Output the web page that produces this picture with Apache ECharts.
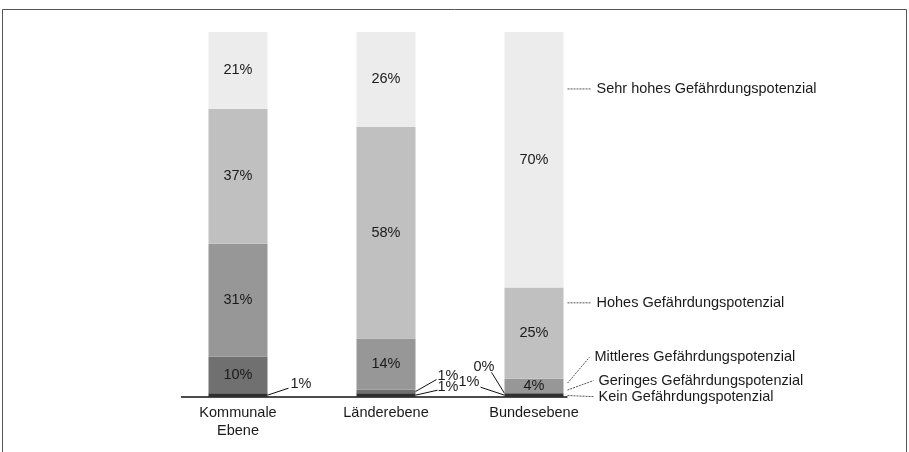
<!DOCTYPE html>
<html>
<head>
<meta charset="utf-8">
<script src="https://cdn.jsdelivr.net/npm/echarts@6/dist/echarts.min.js"></script>
<style>
  html, body { margin: 0; padding: 0; background: #fff; }
  #chart { width: 909px; height: 452px; }
</style>
</head>
<body>
<div id="chart"></div>
<script>
// Kategorien und Anteile (Prozent) je Ebene
const categories = ['Kommunale\nEbene', 'Länderebene', 'Bundesebene']
const seriesNames = [
  'Kein Gefährdungspotenzial',
  'Geringes Gefährdungspotenzial',
  'Mittleres Gefährdungspotenzial',
  'Hohes Gefährdungspotenzial',
  'Sehr hohes Gefährdungspotenzial'
]
const kein = [1, 1, 1]
const geringes = [10, 1, 0]
const mittleres = [31, 14, 4]
const hohes = [37, 58, 25]
const sehrHohes = [21, 26, 70]

const values = [kein, geringes, mittleres, hohes, sehrHohes]
const colors = ['#2f2f2f', '#707070', '#979797', '#c0c0c0', '#ececec']
const textColor = '#1a1a1a'
const fontFamily = 'Liberation Sans, Arial, sans-serif'
const fontSize = 14.5

// kleine Werte bekommen einen Hinweisstrich statt Beschriftung im Balken
const MIN_INSIDE = 4

const chart = echarts.init(document.getElementById('chart'))

const series = values.map((arr, s) => ({
  name: seriesNames[s],
  type: 'bar',
  stack: 'total',
  barWidth: 59,
  itemStyle: { color: colors[s] },
  label: {
    show: true,
    position: 'inside',
    color: textColor,
    fontSize,
    fontFamily,
    formatter: p => (p.value >= MIN_INSIDE ? p.value + '%' : '')
  },
  emphasis: { disabled: true },
  data: arr
}))

chart.setOption({
  animation: false,
  backgroundColor: '#fff',
  grid: { left: 164, right: 301, top: 32, bottom: 55 },
  xAxis: {
    type: 'category',
    data: categories,
    axisLine: { show: false },
    axisTick: { show: false },
    axisLabel: {
      color: textColor,
      fontSize,
      fontFamily,
      lineHeight: 18,
      margin: 7
    }
  },
  yAxis: { type: 'value', min: 0, max: 100, show: false },
  series
})

// Hilfsfunktionen: Pixel aus Kategorie / Wert über die Achsen
const px = (cat, val) => chart.convertToPixel({ gridIndex: 0 }, [cat, val])
const half = 29.5
const cum = (s, c) => values.slice(0, s).reduce((a, arr) => a + arr[c], 0)
const mid = (s, c) => cum(s, c) + values[s][c] / 2

const graphic = []
const base = px(0, 0)[1]

// Rahmen
graphic.push({
  type: 'rect',
  shape: { x: 2.5, y: 9.5, width: 904, height: 460 },
  style: { fill: null, stroke: '#555', lineWidth: 1 },
  silent: true
})

// Grundlinie
graphic.push({
  type: 'line',
  shape: { x1: px(0, 0)[0] - 57, y1: base, x2: px(2, 0)[0] + half + 4, y2: base },
  style: { stroke: '#111', lineWidth: 1.3 }
})

// Hinweise für kleine Werte: [serie, kategorie, seite, dx, dy, textX, textY]
const callouts = [
  [0, 0, 1, 21, -7, 2, -4],
  [0, 1, 1, 22, -5, 0, -3],
  [1, 1, 1, 21, -12, 1, -4],
  [0, 2, -1, -24, -8, -1, -5],
  [1, 2, -1, -13, -21, 3, -5]
]
callouts.forEach(([s, c, side, dx, dy, tx, ty]) => {
  const p = px(c, mid(s, c))
  const x0 = p[0] + side * half
  const y0 = p[1]
  const x1 = x0 + dx
  const y1 = y0 + dy
  graphic.push({
    type: 'line',
    shape: { x1: x0, y1: y0, x2: x1, y2: y1 },
    style: { stroke: '#111', lineWidth: 1 }
  })
  graphic.push({
    type: 'text',
    x: x1 + tx,
    y: y1 + ty,
    style: {
      text: values[s][c] + '%',
      fill: textColor,
      fontSize,
      fontFamily,
      align: side > 0 ? 'left' : 'right',
      verticalAlign: 'middle'
    }
  })
})

// Reihennamen rechts neben dem letzten Balken: [serie, startwert, textwert, textversatz]
const nameTags = [
  [4, 84.4, 84.4, 0],
  [3, 25.8, 25.8, 0],
  [2, 3.8, 10.9, -2],
  [1, 1.9, 4.5, 2],
  [0, 0.4, 0.1, 2]
]
const lastCat = categories.length - 1
nameTags.forEach(([s, v0, v1, tx]) => {
  const a = px(lastCat, v0)
  const b = px(lastCat, v1)
  const xStart = a[0] + half + 4
  const xEnd = a[0] + half + 28 + tx
  graphic.push({
    type: 'line',
    shape: { x1: xStart, y1: a[1], x2: xEnd, y2: b[1] },
    style: { stroke: '#555', lineWidth: 1, lineDash: [2, 1] }
  })
  graphic.push({
    type: 'text',
    x: xEnd + 5,
    y: b[1],
    style: {
      text: seriesNames[s],
      fill: textColor,
      fontSize,
      fontFamily,
      align: 'left',
      verticalAlign: 'middle'
    }
  })
})

chart.setOption({ graphic })
</script>
</body>
</html>
